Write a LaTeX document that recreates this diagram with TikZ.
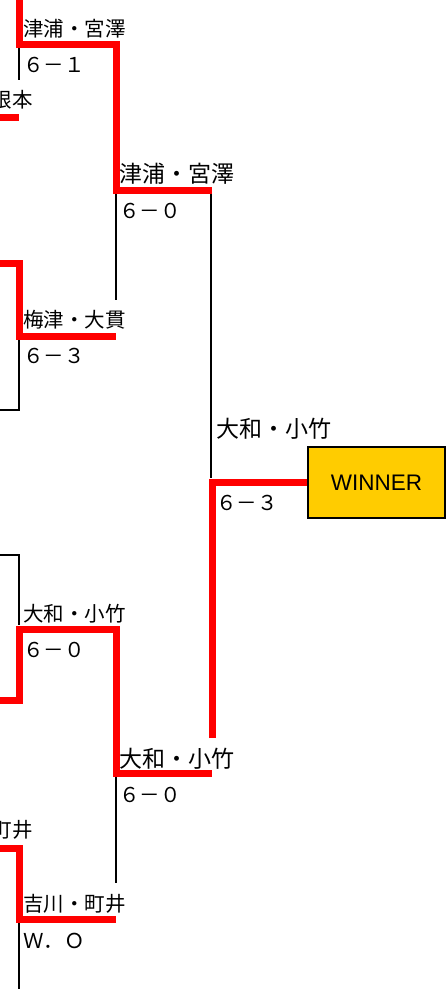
\documentclass[tikz,border=0pt]{standalone}
\usepackage{fontspec}
\setmainfont{Liberation Sans}
\newfontfamily\jp{Noto Sans CJK JP}
\definecolor{winnergold}{HTML}{FFCC00}
\begin{document}
\begin{tikzpicture}[x=1pt,y=-1pt,
  win/.style={draw=red, line width=7pt, line join=miter},
  lose/.style={draw=black, line width=1.8pt},
  nm/.style={font=\jp\fontsize{20.5}{24}\selectfont, inner sep=0pt, anchor=base west},
  nmb/.style={font=\jp\fontsize{23}{27}\selectfont, inner sep=0pt, anchor=base west},
  nme/.style={font=\jp\fontsize{20.5}{24}\selectfont, inner sep=0pt, anchor=base east},
  sc/.style={font=\jp\fontsize{20.5}{24}\selectfont, inner sep=0pt, anchor=base west},
  winbox/.style={draw=black, line width=1.5pt, fill=winnergold, minimum width=137pt, minimum height=71pt, inner sep=0pt, font=\fontsize{22.5}{26}\selectfont}
]
\useasboundingbox (0,0) rectangle (446,989);

% winner box
\node[winbox] (winner) at (376.5,482.5) {WINNER};

% coordinates (bracket corners)
\coordinate (a0) at (19,0);
\coordinate (a1) at (19,44);
\coordinate (a2) at (116,44);
\coordinate (a3) at (116,190);
\coordinate (a4) at (212,190);
\coordinate (b0) at (0,117);
\coordinate (b1) at (19,117);
\coordinate (c0) at (0,263);
\coordinate (c1) at (19,263);
\coordinate (c2) at (19,336);
\coordinate (c3) at (116,336);
\coordinate (d0) at (0,700);
\coordinate (d1) at (19,700);
\coordinate (d2) at (19,629);
\coordinate (d3) at (116,629);
\coordinate (d4) at (116,773);
\coordinate (d5) at (212,773);
\coordinate (e0) at (212,738);
\coordinate (e1) at (212,482.5);
\coordinate (f0) at (0,848);
\coordinate (f1) at (19,848);
\coordinate (f2) at (19,919);
\coordinate (f3) at (116,919);

% black (losing) lines
\coordinate (k1a) at (19,47);   \coordinate (k1b) at (19,80);
\coordinate (k2a) at (116,193); \coordinate (k2b) at (116,300);
\coordinate (k3a) at (211,193); \coordinate (k3b) at (211,478);
\coordinate (k4a) at (0,410);   \coordinate (k4b) at (19,410); \coordinate (k4c) at (19,339);
\coordinate (k5a) at (0,555);   \coordinate (k5b) at (19,555); \coordinate (k5c) at (19,625);
\coordinate (k6a) at (116,777); \coordinate (k6b) at (116,883);
\coordinate (k7a) at (19,923);  \coordinate (k7b) at (19,989);

\draw[lose] (k1a) -- (k1b);
\draw[lose] (k2a) -- (k2b);
\draw[lose] (k3a) -- (k3b);
\draw[lose] (k4a) -- (k4b) -- (k4c);
\draw[lose] (k5a) -- (k5b) -- (k5c);
\draw[lose] (k6a) -- (k6b);
\draw[lose] (k7a) -- (k7b);

% red (winning) lines
\draw[win] (a0) -- (a1) -- (a2) -- (a3) -- (a4);
\draw[win] (b0) -- (b1);
\draw[win] (c0) -- (c1) -- (c2) -- (c3);
\draw[win] (d0) -- (d1) -- (d2) -- (d3) -- (d4) -- (d5);
\draw[win] (e0) -- (e1) -- (winner.west);
\draw[win] (f0) -- (f1) -- (f2) -- (f3);

% labels
\node[nm] (t1) at (23,36) {津浦・宮澤};
\node[sc] (s1) at (23,72) {６－１};
\node[nme] (t2) at (33,107) {根本};
\node[nmb] (t3) at (119,182) {津浦・宮澤};
\node[sc] (s3) at (119,218) {６－０};
\node[nm] (t4) at (23,327) {梅津・大貫};
\node[sc] (s4) at (23,363) {６－３};
\node[nmb] (t5) at (216,437) {大和・小竹};
\node[sc] (s5) at (216,510) {６－３};
\node[nm] (t6) at (23,621) {大和・小竹};
\node[sc] (s6) at (23,657) {６－０};
\node[nmb] (t7) at (119,767) {大和・小竹};
\node[sc] (s7) at (119,802) {６－０};
\node[nme] (t8) at (33,837) {町井};
\node[nm] (t9) at (23,911) {吉川・町井};
\node[sc] (s9) at (23,948) {Ｗ．Ｏ};
\end{tikzpicture}
\end{document}
